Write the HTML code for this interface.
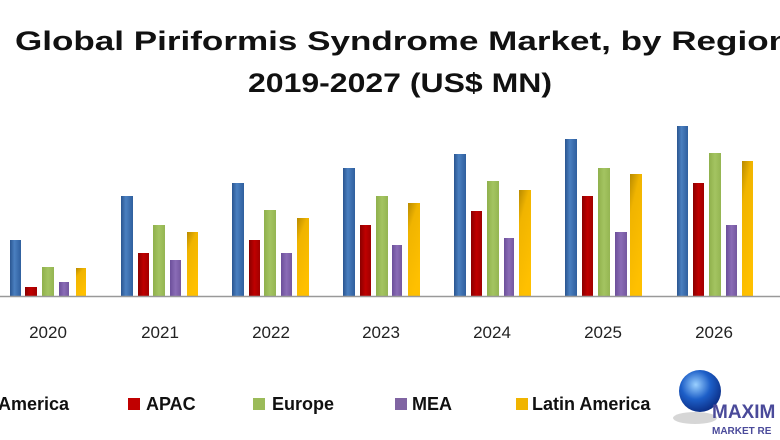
<!DOCTYPE html>
<html><head><meta charset="utf-8"><style>
html,body{margin:0;padding:0;background:#fff;}
svg{display:block;}
text{font-family:"Liberation Sans",sans-serif;}
</style></head><body>
<svg width="780" height="440" viewBox="0 0 780 440" xmlns="http://www.w3.org/2000/svg">
<defs>
<linearGradient id="b" x1="0" x2="1"><stop offset="0" stop-color="#2a5590"/><stop offset=".4" stop-color="#4a7fc0"/><stop offset="1" stop-color="#2f5f9e"/></linearGradient>
<linearGradient id="r" x1="0" x2="1"><stop offset="0" stop-color="#8a0000"/><stop offset=".5" stop-color="#c00000"/><stop offset="1" stop-color="#a00000"/></linearGradient>
<linearGradient id="g" x1="0" x2="1"><stop offset="0" stop-color="#8fb04c"/><stop offset=".5" stop-color="#a4c461"/><stop offset="1" stop-color="#94b552"/></linearGradient>
<linearGradient id="p" x1="0" x2="1"><stop offset="0" stop-color="#6c4f9a"/><stop offset=".5" stop-color="#8a6cb6"/><stop offset="1" stop-color="#74579f"/></linearGradient>
<linearGradient id="y" x1="0" x2="0.4" y1="0" y2="1"><stop offset="0" stop-color="#b88a00"/><stop offset=".3" stop-color="#f0b400"/><stop offset="1" stop-color="#ffc000"/></linearGradient>
<radialGradient id="gl" cx=".4" cy=".35" r=".7"><stop offset="0" stop-color="#9ad0ff"/><stop offset=".5" stop-color="#1d5fc8"/><stop offset="1" stop-color="#0a2a80"/></radialGradient>
</defs>
<text x="15" y="50" font-size="27" font-weight="bold" fill="#111" textLength="775" lengthAdjust="spacingAndGlyphs">Global Piriformis Syndrome Market, by Region</text>
<text x="248" y="92" font-size="27" font-weight="bold" fill="#111" textLength="304" lengthAdjust="spacingAndGlyphs">2019-2027 (US$ MN)</text>
<g>
<rect x="10" y="240" width="11" height="56" fill="url(#b)"/><rect x="25" y="287" width="12" height="9" fill="url(#r)"/><rect x="42" y="267" width="12" height="29" fill="url(#g)"/><rect x="59" y="282" width="10" height="14" fill="url(#p)"/><rect x="76" y="268" width="10" height="28" fill="url(#y)"/>
<rect x="121" y="196" width="12" height="100" fill="url(#b)"/><rect x="138" y="253" width="11" height="43" fill="url(#r)"/><rect x="153" y="225" width="12" height="71" fill="url(#g)"/><rect x="170" y="260" width="11" height="36" fill="url(#p)"/><rect x="187" y="232" width="11" height="64" fill="url(#y)"/>
<rect x="232" y="183" width="12" height="113" fill="url(#b)"/><rect x="249" y="240" width="11" height="56" fill="url(#r)"/><rect x="264" y="210" width="12" height="86" fill="url(#g)"/><rect x="281" y="253" width="11" height="43" fill="url(#p)"/><rect x="297" y="218" width="12" height="78" fill="url(#y)"/>
<rect x="343" y="168" width="12" height="128" fill="url(#b)"/><rect x="360" y="225" width="11" height="71" fill="url(#r)"/><rect x="376" y="196" width="12" height="100" fill="url(#g)"/><rect x="392" y="245" width="10" height="51" fill="url(#p)"/><rect x="408" y="203" width="12" height="93" fill="url(#y)"/>
<rect x="454" y="154" width="12" height="142" fill="url(#b)"/><rect x="471" y="211" width="11" height="85" fill="url(#r)"/><rect x="487" y="181" width="12" height="115" fill="url(#g)"/><rect x="504" y="238" width="10" height="58" fill="url(#p)"/><rect x="519" y="190" width="12" height="106" fill="url(#y)"/>
<rect x="565" y="139" width="12" height="157" fill="url(#b)"/><rect x="582" y="196" width="11" height="100" fill="url(#r)"/><rect x="598" y="168" width="12" height="128" fill="url(#g)"/><rect x="615" y="232" width="12" height="64" fill="url(#p)"/><rect x="630" y="174" width="12" height="122" fill="url(#y)"/>
<rect x="677" y="126" width="11" height="170" fill="url(#b)"/><rect x="693" y="183" width="11" height="113" fill="url(#r)"/><rect x="709" y="153" width="12" height="143" fill="url(#g)"/><rect x="726" y="225" width="11" height="71" fill="url(#p)"/><rect x="742" y="161" width="11" height="135" fill="url(#y)"/>
</g>
<line x1="0" y1="296.5" x2="780" y2="296.5" stroke="#999" stroke-width="1.5"/>
<g font-size="17" fill="#222" text-anchor="middle">
<text x="48" y="338">2020</text><text x="160" y="338">2021</text><text x="271" y="338">2022</text><text x="381" y="338">2023</text><text x="492" y="338">2024</text><text x="603" y="338">2025</text><text x="714" y="338">2026</text>
</g>
<g font-size="18" font-weight="bold" fill="#111">
<text x="-2" y="410">America</text>
<rect x="128" y="398" width="12" height="12" fill="#c00000"/><text x="146" y="410">APAC</text>
<rect x="253" y="398" width="12" height="12" fill="#9bbb59"/><text x="272" y="410">Europe</text>
<rect x="395" y="398" width="12" height="12" fill="#8064a2"/><text x="412" y="410">MEA</text>
<rect x="516" y="398" width="12" height="12" fill="#f0b400"/><text x="532" y="410">Latin America</text>
</g>
<ellipse cx="695" cy="418" rx="22" ry="6" fill="#bbb" opacity=".6"/>
<circle cx="700" cy="391" r="21" fill="url(#gl)"/>
<text x="712" y="418" font-family="Liberation Serif,serif" font-size="19" font-weight="bold" fill="#4a4a9a">MAXIM</text>
<text x="712" y="434" font-family="Liberation Serif,serif" font-size="10" font-weight="bold" fill="#4a4a9a">MARKET RE</text>
</svg>
</body></html>
